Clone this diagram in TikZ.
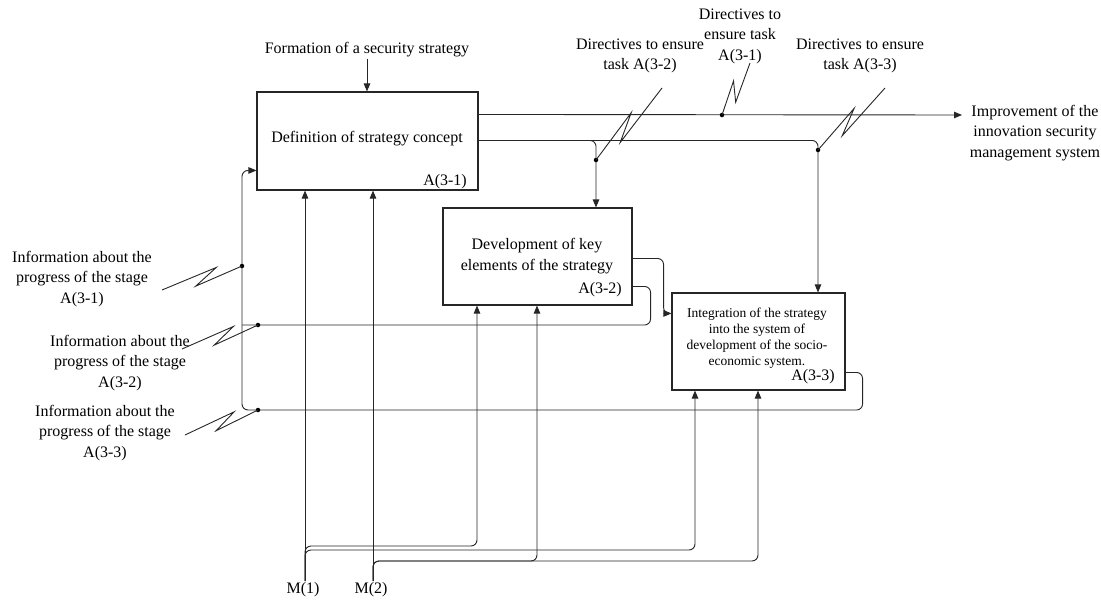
\documentclass[tikz,border=0pt]{standalone}
\usepackage{fontspec}
\setmainfont{Liberation Serif}
\usetikzlibrary{arrows.meta,calc}
\begin{document}
\begin{tikzpicture}[x=1pt,y=-1pt,
  line/.style={draw=black!85, line width=0.9pt, rounded corners=6pt},
  arr/.style={line, -{Triangle[length=8pt,width=6.5pt]}},
  box/.style={draw=black!85, line width=1.1pt, rectangle, inner sep=0pt},
  lbl/.style={font=\fontsize{16}{20.5}\selectfont, align=center, inner sep=1pt},
  small/.style={font=\fontsize{13.5}{16}\selectfont, align=center, inner sep=1pt},
  dot/.style={circle, fill=black, inner sep=0pt, minimum size=4.5pt},
  squig/.style={line, rounded corners=0pt, to path={-- ($(\tikztostart)!0.7!(\tikztotarget)!6pt!90:(\tikztotarget)$) -- ($(\tikztostart)!0.4!(\tikztotarget)!6pt!-90:(\tikztotarget)$) -- (\tikztotarget)}}]
\useasboundingbox (0,0) rectangle (1101,600);

% boxes
\node[box, minimum width=221pt, minimum height=98pt] (A1) at (367.5,141) {};
\node[lbl] (t1) at (367,139) {Definition of strategy concept};
\node[lbl, anchor=east] (n1) at (468,182) {A(3-1)};

\node[box, minimum width=189pt, minimum height=97pt] (A2) at (537.5,256.5) {};
\node[lbl] (t2) at (537,256) {Development of key\\elements of the strategy};
\node[lbl, anchor=east] (n2) at (623,290) {A(3-2)};

\node[box, minimum width=173pt, minimum height=97pt] (A3) at (758.5,341.5) {};
\node[small] (t3) at (757,338) {Integration of the strategy\\into the system of\\development of the socio-\\economic system.};
\node[lbl, anchor=east] (n3) at (836,377) {A(3-3)};

% labels
\node[lbl] (f) at (367,50) {Formation of a security strategy};
\node[lbl] (imp) at (1035,133) {Improvement of the\\innovation security\\management system};
\node[lbl] (r2) at (640,56) {Directives to ensure\\task A(3-2)};
\node[lbl] (r1) at (740,36) {Directives to\\ensure task\\A(3-1)};
\node[lbl] (r3) at (860,56) {Directives to ensure\\task A(3-3)};
\node[lbl] (i1) at (82,279) {Information about the\\progress of the stage\\A(3-1)};
\node[lbl] (i2) at (120,363) {Information about the\\progress of the stage\\A(3-2)};
\node[lbl] (i3) at (105,433) {Information about the\\progress of the stage\\A(3-3)};
\node[lbl] (m1) at (303,590) {M(1)};
\node[lbl] (m2) at (371,590) {M(2)};

% coordinates
\coordinate (o1) at (962,115);
\coordinate (fb2) at (242,325);
\coordinate (lp) at (242,410);
\coordinate (b1) at (477,546);
\coordinate (b2) at (695,550);
\coordinate (b3) at (537,561);
\coordinate (b4) at (758,561);
\coordinate (m1t) at (305,581);
\coordinate (m2t) at (373,581);

% control input
\draw[arr] (f.south) -- (A1.north -| f.south);

% outputs of A1
\draw[arr] ([yshift=-23pt]A1.north east) -- (o1);
\draw[arr] ([yshift=-49pt]A1.north east) -| ([xshift=59.5pt]A3.north);
\draw[arr] ([yshift=-49pt]A1.north east) -| ([xshift=58.5pt]A2.north);

% A2 outputs
\draw[arr] ([yshift=-51pt]A2.north east) -- ++(31,0) |- ([yshift=-21pt]A3.north west);
\draw[line] ([yshift=-79pt]A2.north east) -- ++(18,0) |- (fb2);

% A3 feedback loop
\draw[arr] ([yshift=-80pt]A3.north east) -- ++(17,0) |- (lp) |- ([yshift=-79pt]A1.north west);

% mechanisms
\draw[arr] (m1t) -- (m1t |- A1.south);
\draw[arr] (m2t) -- (m2t |- A1.south);
\draw[arr] (m1t) |- (b1) -- (b1 |- A2.south);
\draw[arr] (m1t) |- (b2) -- (b2 |- A3.south);
\draw[arr] (m2t) |- (b3) -- (b3 |- A2.south);
\draw[arr] (m2t) |- (b4) -- (b4 |- A3.south);

% dots
\node[dot] (d1) at (722,115) {};
\node[dot] (d2) at (596,160) {};
\node[dot] (d3) at (818,150) {};
\node[dot] (d4) at (242,266) {};
\node[dot] (d5) at (258,325) {};
\node[dot] (d6) at (258,410) {};

% squiggles
\coordinate (s1) at (162,290);
\coordinate (s2) at (182,349);
\coordinate (s3) at (185,435);
\coordinate (s4) at (662,88);
\coordinate (s5) at (750,63);
\coordinate (s6) at (885,88);
\draw[squig] (s1) to (d4.center);
\draw[squig] (s2) to (d5.center);
\draw[squig] (s3) to (d6.center);
\draw[squig] (s4) to (d2.center);
\draw[squig] (s5) to (d1.center);
\draw[squig] (s6) to (d3.center);
\end{tikzpicture}
\end{document}
